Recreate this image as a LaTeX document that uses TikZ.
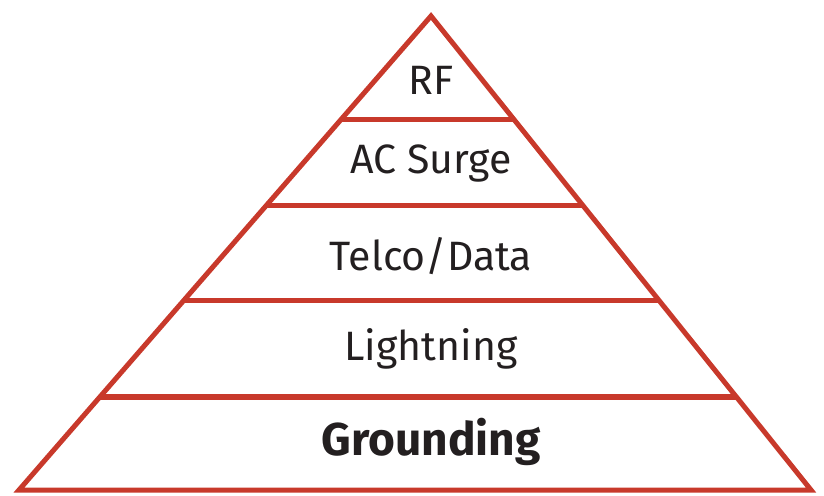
\documentclass[tikz,border=0pt]{standalone}
\usepackage{fontspec}
\setmainfont{Fira Sans}
\usetikzlibrary{calc}
\definecolor{pyr}{HTML}{C8392B}
\definecolor{txt}{HTML}{231F20}
\tikzset{
  edge/.style={draw=pyr, line width=5pt, line join=miter},
  band/.style={draw=pyr, line width=5pt},
  lbl/.style={text=txt, font=\fontsize{41}{44}\selectfont, inner sep=0pt},
  lblb/.style={text=txt, font=\fontsize{46}{50}\selectfont\bfseries, inner sep=0pt}
}
\begin{document}
\begin{tikzpicture}[x=1pt,y=-1pt]
\useasboundingbox (0,0) rectangle (824,495);
\coordinate (apex) at (431,16);
\coordinate (bl) at (19,490);
\coordinate (br) at (811,490);
\draw[edge] (apex) -- (bl) -- (br) -- cycle;
\foreach \h in {120,206,301,397}{
  \pgfmathsetmacro{\t}{(\h-16)/474}
  \draw[band] ($(apex)!\t!(bl)$) -- ($(apex)!\t!(br)$);
}
\node[lbl] (rf) at (431,80) {RF};
\node[lbl] (ac) at (431,163) {AC Surge};
\node[lbl] (tel) at (431,256) {Telco/Data};
\node[lbl] (lig) at (431,349) {Lightning};
\node[lblb] (gnd) at (431,442) {Grounding};
\end{tikzpicture}
\end{document}
